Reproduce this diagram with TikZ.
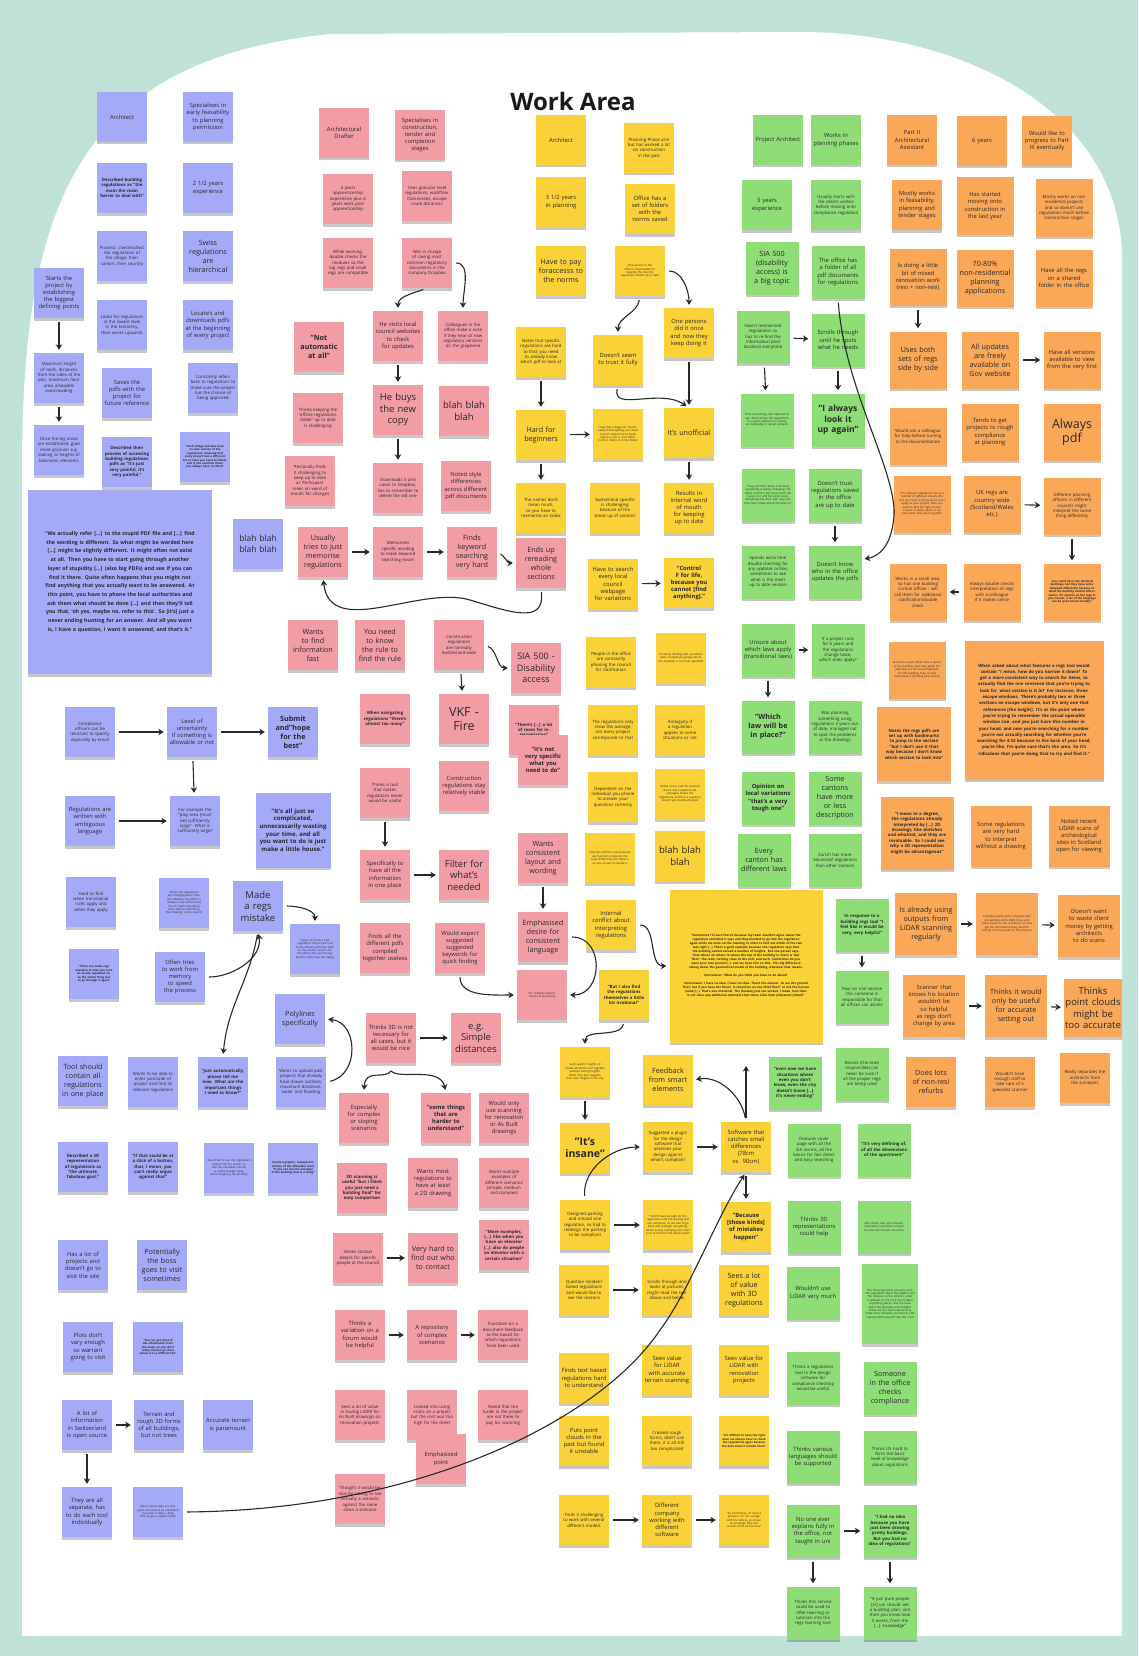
\documentclass[tikz,border=0pt]{standalone}
\usepackage{fontspec}
\setmainfont{Open Sans}
\usetikzlibrary{arrows.meta,shadows}
\hyphenpenalty=10000
\exhyphenpenalty=10000
\definecolor{cBg}{RGB}{191,225,216}
\definecolor{cBl}{RGB}{165,170,248}
\definecolor{cPk}{RGB}{242,156,166}
\definecolor{cYe}{RGB}{250,209,55}
\definecolor{cGr}{RGB}{142,221,118}
\definecolor{cOr}{RGB}{250,168,88}
\definecolor{cInk}{RGB}{40,40,40}
\newcommand\stk[5]{\node[note,#1] (#2) at (#3,#4) {#5};}
\tikzset{
  note/.style={rectangle, minimum width=50pt, minimum height=50pt, text width=45pt, align=center, inner sep=0pt, text=cInk,
    drop shadow={shadow xshift=0pt, shadow yshift=-2.5pt, opacity=0.22, fill=black}},
  sz/.style 2 args={minimum width=#1pt, minimum height=#1pt, text width=#2pt},
  bl/.style={fill=cBl}, pk/.style={fill=cPk}, ye/.style={fill=cYe},
  gr/.style={fill=cGr, minimum width=53pt, minimum height=53pt, text width=48pt},
  or/.style={fill=cOr, minimum width=57pt, minimum height=57pt, text width=51pt},
  fA/.style={font=\fontsize{12.5}{14.5}\selectfont},
  fa/.style={font=\fontsize{9.5}{11.5}\selectfont},
  fb/.style={font=\fontsize{7.2}{9}\selectfont},
  fc/.style={font=\fontsize{5.8}{7.2}\selectfont},
  fd/.style={font=\fontsize{4.3}{5.4}\selectfont},
  fe/.style={font=\fontsize{2.8}{3.4}\selectfont},
  bo/.style={execute at begin node=\bfseries},
  arr/.style={draw=cInk, line width=1.1pt, -{Stealth[length=5.5pt,width=6.5pt]}, shorten >=3pt, shorten <=4pt},
}
\begin{document}
\begin{tikzpicture}[x=1pt,y=-1pt]
\useasboundingbox (0,0) rectangle (1138,1656);
\fill[cBg] (0,0) rectangle (1138,1656);
\fill[white] (22,1636) -- (22,470) .. controls (22,200) and (80,60) .. (330,34) -- (800,32)
  .. controls (960,32) and (1122,110) .. (1122,260) -- (1122,1636) -- cycle;
\node[font=\fontsize{24}{26}\selectfont\bfseries, text=black!90] (title) at (573,102) {Work Area};

% ---------------- BLUE ----------------
\stk{bl,fc}{b1}{122}{117}{Architect}
\stk{bl,fc}{b2}{208}{117}{Specialises in early feasability to planning permission}
\stk{bl,fd,bo}{b3}{122}{188}{Described building regulations as "the main the main horror to deal with"}
\stk{bl,fc}{b4}{208}{188}{2 1/2 years experience}
\stk{bl,fd}{b5}{122}{256}{Process: check/collect the regulations of the village, then canton, then country}
\stk{bl,fb}{b6}{208}{256}{Swiss regulations are hierarchical}
\stk{bl,fc}{b7}{59}{293}{Starts the project by establishing the biggest defining points}
\stk{bl,fd}{b8}{122}{325}{Looks for regulations at the lowest level in the hierarchy, then works upwards}
\stk{bl,fc}{b9}{208}{325}{Locate's and downloads pdfs at the beginning of every project}
\stk{bl,fd}{b10}{59}{378}{Maximum height of roofs, distances from the sides of the plot, maximum floor area, allowable overcrowding}
\stk{bl,fc}{b11}{127}{393}{Saves the pdfs with the project for future reference}
\stk{bl,fd}{b12}{213}{388}{Constantly refers back to regulations to make sure the project has the chance of being approved}
\stk{bl,fd}{b13}{59}{450}{Once the big areas are established, goes more granular e.g. looking at heights of balconies, elements}
\stk{bl,fd,bo}{b14}{127}{462}{Described their process of accessing building regulations pdfs as "It's just very painful, it's very painful."}
\stk{bl,fe,bo}{b15}{205}{457}{"Each village will also have its own version of the regulations, meaning that every project has a different set of rules you need to follow, and if you overlook these you always have to check"}
\stk{bl,bo,sz={184}{160},font=\fontsize{5.2}{8.7}\selectfont}{b16}{120}{582}{"We actually refer [...] to the stupid PDF file and [...] find the wording is different. So what might be worded here [...] might be slightly different. It might often not exist at all. Then you have to start going through another layer of stupidity [...] (also big PDFs) and see if you can find it there. Quite often happens that you might not find anything that you actually want to be answered. At this point, you have to phone the local authorities and ask them what should be done [...] and then they'll tell you that, 'oh yes, maybe no, refer to this'. So [it's] just a never ending hunting for an answer. And all you want is, I have a question, I want it answered, and that's it."}
\stk{bl,font=\fontsize{8.5}{10.5}\selectfont}{b17}{258}{544}{blah blah blah blah}
\stk{bl,fd}{b18}{90}{732}{Compliance officers can be reluctant to specify, especially by email}
\stk{bl,fc}{b19}{192}{732}{Level of uncertainty if something is allowable or not}
\stk{bl,fb,bo}{b20}{293}{732}{Submit and"hope for the best"}
\stk{bl,fc}{b21}{90}{821}{Regulations are written with ambiguous language}
\stk{bl,fd}{b22}{195}{821}{For example the "play area [must be] sufficiently large". What is sufficiently large?}
\stk{bl,bo,sz={75}{68},font=\fontsize{6}{7.6}\selectfont}{b23}{293}{830}{"It's all just so complicated, unnecessarily wasting your time, and all you want to do is just make a little house."}
\stk{bl,fd}{b24}{91}{902}{Hard to find when transitional rules apply and when they apply}
\stk{bl,fe}{b25}{184}{903}{Thinks the regulations are changing faster than the software, the office is always a step behind and has to check everything twice before submitting the drawings to the council}
\stk{bl,fa}{b26}{258}{906}{Made a regs mistake}
\stk{bl,fe}{b27}{315}{949}{Forgot to check a new regulation, the project had to be redrawn and sent back to the council, which cost the office time and money and the client was not happy}
\stk{bl,fe,bo}{b28}{94}{974}{"There are made regs mistakes so that you can't be locally regulated on, so the whole thing has to go through it again"}
\stk{bl,fc}{b29}{180}{977}{Often tries to work from memory to speed the process}
\stk{bl,fb}{b30}{300}{1019}{Polylines specifically}
\stk{bl,fb}{b31}{83}{1081}{Tool should contain all regulations in one place}
\stk{bl,fd}{b32}{153}{1082}{Wants to be able to enter postcode of project and find all relevant regulations}
\stk{bl,fd,bo}{b33}{223}{1082}{"Just automatically, please tell me now. What are the important things I need to know?"}
\stk{bl,fd}{b34}{301}{1082}{Wants to upload past projects that already have drawn outlines, maximum distances, water and flooding}
\stk{bl,fd,bo}{b35}{83}{1167}{Described a 3D representation of regulations as "the ultimate, fabulous goal."}
\stk{bl,fd,bo}{b36}{153}{1167}{"If that could be at a click of a button, that, I mean, you can't really argue against that"}
\stk{bl,fe}{b37}{229}{1168}{Would like to see the regulations drawn into the model, so that the allowable volume is visible straight away while designing the building}
\stk{bl,fe,bo}{b38}{293}{1168}{Needs a graphic, transparent volume of the allowable mass "If you can see the envelope of the building that is a thing"}
\stk{bl,fc}{b39}{83}{1265}{Has a lot of projects and doesn't go to visit the site}
\stk{bl,fb}{b40}{162}{1265}{Potentially the boss goes to visit sometimes}
\stk{bl,fc}{b41}{88}{1347}{Plots don't vary enough so warrant going to visit}
\stk{bl,fe,bo}{b42}{158}{1347}{"You can get most of the information from the maps, so you don't really need to go there unless it is a difficult site"}
\stk{bl,fc}{b43}{87}{1425}{A lot of information in Switzerland is open source}
\stk{bl,fc}{b44}{159}{1425}{Terrain and rough 3D forms of all buildings, but not trees}
\stk{bl,fc}{b45}{228}{1425}{Accurate terrain is paramount}
\stk{bl,fc}{b46}{87}{1512}{They are all separate, has to do each tool individually}
\stk{bl,fe}{b47}{158}{1512}{Open source data are very good but have to be combined by hand, it takes a long time to get a usable model}

% ---------------- PINK ----------------
\stk{pk,fc}{p1}{344}{133}{Architectural Drafter}
\stk{pk,fc}{p2}{420}{135}{Specialises in construction, tender and completion stages}
\stk{pk,fd}{p3}{348}{199}{4 years apprenticeship experience plus 4 years work post apprenticeship}
\stk{pk,fd}{p4}{427}{196}{Uses granular level regulations, wall/floor thicknesses, escape route distances}
\stk{pk,fd}{p5}{348}{263}{While working, double checks the modules so the big regs and small regs are compatible}
\stk{pk,fd}{p6}{427}{263}{Was in charge of saving most common regulatory documents in the company Dropbox}
\stk{pk,fc}{p7}{398}{336}{He visits local council websites to check for updates}
\stk{pk,fd}{p8}{463}{336}{Colleagues in the office make a note if they hear of new regulatory versions on the grapevine}
\stk{pk,fb,bo}{p9}{319}{347}{"Not automatic at all"}
\stk{pk,fa}{p10}{398}{410}{He buys the new copy}
\stk{pk,fa}{p11}{464}{411}{blah blah blah}
\stk{pk,fd}{p12}{318}{418}{Thinks keeping the 'offline regulations folder' up to date is challenging}
\stk{pk,fd}{p13}{310}{481}{Personally finds it challenging to keep up to date as Participant relies on word of mouth for changes}
\stk{pk,fd}{p14}{398}{488}{Downloads it and saves to Dropbox, has to remember to delete the old one}
\stk{pk,fc}{p15}{466}{486}{Noted style differences across different pdf documents}
\stk{pk,fb}{p16}{323}{552}{Usually tries to just memorise regulations}
\stk{pk,fd}{p17}{398}{552}{Memorises specific wording to make keyword searching easier}
\stk{pk,fb}{p18}{472}{552}{Finds keyword searching very hard}
\stk{pk,fb}{p19}{541}{563}{Ends up rereading whole sections}
\stk{pk,fb}{p20}{313}{645}{Wants to find information fast}
\stk{pk,fb}{p21}{380}{645}{You need to know the rule to find the rule}
\stk{pk,fd}{p22}{459}{645}{Construction regulations are normally Switzerland wide}
\stk{pk,font=\fontsize{9}{11.5}\selectfont}{p23}{536}{668}{SIA 500 - Disability access}
\stk{pk,fA}{p24}{464}{719}{VKF - Fire}
\stk{pk,fd,bo}{p25}{385}{719}{When navigating regulations "there's almost too many"}
\node[note,pk,fd,bo,text height=20pt,text depth=28pt] (p26) at (534,730) {"There's [...] a lot of room for in-\\terpretation"};
\stk{pk,fc,bo}{p27}{543}{760}{"It's not very specific what you need to do"}
\stk{pk,fd}{p28}{385}{793}{Thinks a tool that makes regulations easier would be useful}
\stk{pk,fc}{p29}{464}{786}{Construction regulations stay relatively stable}
\stk{pk,fb}{p30}{543}{858}{Wants consistent layout and wording}
\stk{pk,fc}{p31}{385}{875}{Specifically to have all the information in one place}
\stk{pk,fa}{p32}{464}{875}{Filter for what's needed}
\stk{pk,fb}{p33}{543}{937}{Emphasised desire for consistent language}
\stk{pk,fc}{p34}{385}{948}{Finds all the different pdfs compiled together useless}
\stk{pk,fc}{p35}{460}{948}{Would expect suggested suggested keywords for quick finding}
\stk{pk,fe}{p36}{542}{995}{For complex specific homes or [terraces]}
\stk{pk,fc}{p37}{391}{1038}{Thinks 3D is not necessary for all cases, but it would be nice}
\stk{pk,fa}{p38}{476}{1038}{e.g. Simple distances}
\stk{pk,fc}{p39}{364}{1118}{Especially for complex or sloping scenarios}
\stk{pk,fc,bo}{p40}{446}{1118}{"some things that are harder to understand"}
\stk{pk,fc}{p41}{504}{1118}{Would only use scanning for renovation or As Built drawings}
\stk{pk,fd,bo}{p42}{362}{1188}{3D scanning is useful "but I think you just need a building final" for easy comparison}
\stk{pk,fc}{p43}{433}{1183}{Wants most regulations to have at least a 2D drawing}
\stk{pk,fd}{p44}{504}{1183}{Wants multiple examples of different scenarios (simple, medium and complex)}
\stk{pk,fd}{p45}{358}{1258}{Stores contact details for specific people at the council}
\stk{pk,fb}{p46}{433}{1258}{Very hard to find out who to contact}
\stk{pk,fd,bo}{p47}{504}{1245}{"More examples, [...] like when you have an elevator [...] also do people an elevator with a certain situation"}
\stk{pk,fc}{p48}{360}{1335}{Thinks a variation on a forum would be helpful}
\stk{pk,fc}{p49}{432}{1335}{A repository of complex scenarios}
\stk{pk,fd}{p50}{503}{1335}{Functions on a document feedback to the board for which regulations have been used}
\stk{pk,fd}{p51}{360}{1415}{Sees a lot of value in having LiDAR for As Built drawings on renovation projects}
\stk{pk,fd}{p52}{432}{1415}{Looked into using scans on a project but the cost was too high for the client}
\stk{pk,fd}{p53}{503}{1415}{Noted that the funds in the project are not there to pay for scanning}
\stk{pk,fc}{p54}{441}{1459}{Emphasised point}
\stk{pk,fd}{p55}{360}{1499}{Thought it would be nice for taking to see virtually a scenario against the same clean a scenario}

% ---------------- YELLOW ----------------
\stk{ye,fc}{y1}{561}{140}{Architect}
\stk{ye,fd}{y2}{649}{148}{Planning Phase arm but has worked a lot on construction in the past}
\stk{ye,fc}{y3}{561}{202}{3 1/2 years in planning}
\stk{ye,fc}{y4}{650}{209}{Office has a set of folders with the norms saved}
\stk{ye,fb}{y5}{561}{271}{Have to pay foraccesss to the norms}
\stk{ye,fe}{y6}{640}{271}{One person in the office is responsible for keeping the [norms] regulations folder up to date}
\stk{ye,fc}{y7}{689}{333}{One persons did it once and now they keep doing it}
\stk{ye,fc}{y8}{618}{360}{Doesn't seem to trust it fully}
\stk{ye,fd}{y9}{541}{352}{Notes that specific regulations are hard to find, you need to already know which pdf to look at}
\stk{ye,fb}{y10}{541}{435}{Hard for beginners}
\stk{ye,fe}{y11}{618}{434}{Says that a beginner cannot easily find anything, you need a lot of experience to know where a rule is, and which norm it refers to in the folder}
\stk{ye,fb}{y12}{689}{433}{It's unofficial}
\stk{ye,fd}{y13}{541}{508}{The names don't mean much, so you have to memorise an index}
\stk{ye,fd}{y14}{615}{508}{Switzerland specific is challenging because of the break up of cantons}
\stk{ye,fc}{y15}{689}{508}{Results in internal word of mouth for keeping up to date}
\stk{ye,fc}{y16}{613}{584}{Have to search every local council webpage for variations}
\stk{ye,fc,bo}{y17}{689}{583}{"Control F for life, because you cannot [find anything]."}
\stk{ye,fd}{y18}{611}{662}{People in the office are constantly phoning the council for clarification}
\stk{ye,fe}{y19}{681}{658}{Currently dealing with a problem with a basement garage where the situation is not fully regulated}
\stk{ye,fd}{y20}{613}{730}{The regulations only show the average, not every project corresponds to that}
\stk{ye,fd}{y21}{680}{730}{Ambiguity if a regulation applies to some situations or not}
\stk{ye,fd}{y22}{613}{797}{Dependent on the individual you phone to answer your questions correctly}
\stk{ye,fe}{y23}{680}{794}{Noted not to take for granted that a more experienced colleague knows the regulations and that a question doesn't get double-checked}
\stk{ye,fe}{y24}{610}{858}{Internal conflicts arise because each person interprets the rules differently and there is no one to ask to resolve it}
\stk{ye,fa}{y25}{680}{856}{blah blah blah}
\stk{ye,fc}{y26}{611}{925}{Internal conflict about interpreting regulations}
\stk{ye,sz={153}{128},font=\fontsize{3}{4}\selectfont}{y27}{746}{966}{\textbf{"Sometimes I'm sure there's because my team wouldn't agree about the regulation and what it says and they decided to go into the regulation again while we were on the meeting in order to find out which of the two was right [...] That's a good example because one regulation says that the building cannot exceed a number of heights. But one person says, from where on where to where the top of the building is, there is 'last floor', the ratio, nothing close to the roof, and such. Sometimes do you want your own ground [...] and we have this on this. This big difference taking about the geometrical model of the building, whatever that means.}\\[4pt] \textbf{Interviewer: What do you think you have to do about?}\\[4pt] \textbf{Interviewee: I have no idea, I have no idea. That's the answer. So are the ground floor, but if you have the floors. It should be on one third floor? or not the houses [exist] [...] That's one irrational. The [houses] just can exceed, I mean, how then is not have any additional rationale than these rules than [whatever] [that]?"}}
\stk{ye,fd,bo}{y28}{624}{995}{"But I also find the regulations themselves a little bit irrational"}
\stk{ye,fe}{y29}{585}{1072}{Such specific heights of facade elements, but regulate without having heights when they also regulate their own heights in the city}
\stk{ye,bo,font=\fontsize{10.5}{12.5}\selectfont}{y30}{585}{1148}{"It's insane"}
\stk{ye,fb}{y31}{668}{1080}{Feedback from smart elements}
\stk{ye,fd}{y32}{668}{1147}{Suggested a plugin for the design software that assesses your design against what's compliant}
\stk{ye,fc}{y33}{746}{1147}{Software that catches small differences (78cm vs. 90cm)}
\stk{ye,fc,bo}{y34}{746}{1227}{"Because [those kinds] of mistakes happen"}
\stk{ye,fd}{y35}{585}{1225}{Designed parking and missed one regulation, so had to redesign the parking to be compliant}
\stk{ye,fe}{y36}{668}{1225}{"I didn't have enough for the regulations and the parking was not compliant, so we had to go back and redesign everything, which is very annoying and costs a lot of time for the whole team"}
\stk{ye,fd}{y37}{584}{1290}{Question resident based regulations and would like to see the reasons}
\stk{ye,fd}{y38}{667}{1290}{Scrolls through and looks at pictures, might read the text above and below}
\stk{ye,fb}{y39}{744}{1290}{Sees a lot of value with 3D regulations}
\stk{ye,fc}{y40}{584}{1378}{Finds text based regulations hard to understand}
\stk{ye,fc}{y41}{667}{1370}{Sees value for LiDAR with accurate terrain scanning}
\stk{ye,fc}{y42}{744}{1370}{Sees value for LiDAR with renovation projects}
\stk{ye,fc}{y43}{584}{1441}{Puts point clouds in the past but found it unstable}
\stk{ye,fd}{y44}{667}{1441}{Created rough forms, didn't use them, it is all still too complicated}
\stk{ye,fe,bo}{y45}{744}{1441}{"It's difficult to have the right data, we always have to check the regulations again because the data doesn't include them"}
\stk{ye,fd}{y46}{584}{1520}{Finds it challenging to work with several different models}
\stk{ye,fc}{y47}{667}{1520}{Different company working with different software}
\stk{ye,fe}{y48}{744}{1520}{"So sometimes, if I have a problem, it's not enough with the others, you have to exchange files and convert them all the time"}

% ---------------- GREEN ----------------
\stk{gr,fc,sz={50}{45}}{g1}{778}{140}{Project Architect}
\stk{gr,fc,sz={50}{45}}{g2}{836}{140}{Works in planning phases}
\stk{gr,fc,sz={50}{45}}{g3}{767}{205}{3 years experience}
\stk{gr,fd,sz={50}{45}}{g4}{836}{205}{Usually starts with the clients wishes before moving onto compliance regulation}
\stk{gr,fb}{g5}{772}{268}{SIA 500 (disability access) is a big topic}
\stk{gr,fc}{g6}{838}{272}{The office has a folder of all pdf documents for regulations}
\stk{gr,fd}{g7}{763}{337}{Hasn't memorised regulations so has to re-find the information (and location) everytime}
\stk{gr,fc}{g8}{838}{340}{Scrolls through until he spots what he needs}
\stk{gr,fe}{g9}{767}{420}{Time-consuming and repetitive to ask, doesn't have the regulations in a good platform for saving as knowledge to design projects}
\stk{gr,bo,font=\fontsize{8.5}{10.5}\selectfont}{g10}{838}{420}{"I always look it up again"}
\stk{gr,fe}{g11}{768}{495}{"They still don't know it because everything is always changing; SIA office of all the SIA norms with the basics in it and the latest ones. Everybody has their own way and they don't know where the latest is"}
\stk{gr,fc}{g12}{835}{495}{Doesn't trust regulations saved in the office are up to date}
\stk{gr,fd}{g13}{768}{572}{Spends extra time double checking for any updates online, sometimes to see what is the most up to date version}
\stk{gr,fc}{g14}{835}{572}{Doesn't know who in the office updates the pdfs}
\stk{gr,fc}{g15}{768}{650}{Unsure about which laws apply (transitional laws)}
\stk{gr,fd}{g16}{838}{650}{If a project runs for 6 years and the regulations change twice, which ones apply?}
\stk{gr,fb,bo}{g17}{768}{727}{"Which law will be in place?"}
\stk{gr,fd}{g18}{835}{727}{Was planning something using regulations 3 years out of date, managed not to spot the problems at the drawings}
\stk{gr,fc,bo}{g19}{768}{798}{Opinion on local variations "that's a very tough one"}
\stk{gr,fb}{g20}{835}{798}{Some cantons have more or less description}
\stk{gr,fb}{g21}{764}{860}{Every canton has different laws}
\stk{gr,fd}{g22}{835}{860}{Zurich has more 'advanced' regulations than other cantons}
\stk{gr,fd,bo}{g23}{862}{925}{In response to a building regs tool "I feel like it would be very, very helpful"}
\stk{gr,fd}{g24}{862}{997}{Paul on trial service this someone is responsible for that all offices can access}
\stk{gr,fd,bo}{g25}{795}{1083}{"even now we have situations where even you don't know, even the city doesn't know [...] it's never-ending"}
\stk{gr,fd}{g26}{862}{1074}{Bosses (the ones responsible) can never be sure if all the proper regs are being used}
\stk{gr,fd}{g27}{814}{1150}{Features cover page with all the SIA norms, all the basics for fast direct and easy searching}
\stk{gr,fd,bo}{g28}{884}{1150}{"It's very defining of, of all the dimensions of the apartment"}
\stk{gr,fc}{g29}{814}{1227}{Thinks 3D representations could help}
\stk{gr,fe}{g30}{884}{1227}{Also thinks that just coherent illustrations would be enough to cover all complex scenarios}
\stk{gr,fc}{g31}{813}{1293}{Wouldn't use LiDAR very much}
\stk{gr,fe,sz={56}{50},minimum height=80pt}{g32}{890}{1304}{The following topics are very hard: The regulation about the heights and the distance to the borders, what is allowed on the roof, the number of parking places, and the rules about the windows and daylight. These are the topics where they make most mistakes and where a 3D representation would help the most}
\stk{gr,fd}{g33}{813}{1378}{Thinks a regulations tool in the design software for compliance checking would be useful}
\stk{gr,fb}{g34}{890}{1388}{Someone in the office checks compliance}
\stk{gr,fc}{g35}{813}{1457}{Thinks various languages should be supported}
\stk{gr,fd}{g36}{890}{1457}{Thinks it's hard to form the basic level of knowledge about regulations}
\stk{gr,fc}{g37}{813}{1531}{No one ever explains fully in the office, not taught in uni}
\stk{gr,fd,bo}{g38}{890}{1531}{"I had no idea because you have just been drawing pretty buildings. But you had no idea of regulations"}
\stk{gr,fd}{g39}{813}{1613}{Thinks this service could be used to offer learning or tutorials into the regs learning tool}
\stk{gr,fd}{g40}{890}{1613}{"A just pure people [in] uni should see a building plan, and then you know how it works, from the [...] knowledge"}

% ---------------- ORANGE ----------------
\stk{or,fc,sz={50}{45}}{o1}{912}{140}{Part II Architectural Assistant}
\stk{or,fc,sz={50}{45}}{o2}{982}{141}{6 years}
\stk{or,fc,sz={50}{45}}{o3}{1047}{141}{Would like to progress to Part III eventually}
\stk{or,fc,sz={50}{45}}{o4}{917}{205}{Mostly works in feasability, planning and tender stages}
\stk{or,fc}{o5}{985}{206}{Has started moving onto construction in the last year}
\stk{or,fd}{o6}{1064}{208}{Mostly works on non residential projects and so doesn't use regulations much before construction stages}
\stk{or,fc}{o7}{918}{277}{Is doing a little bit of mixed renovation work (resi + non-resi)}
\stk{or,fb}{o8}{985}{278}{70-80\% non-residential planning applications}
\stk{or,fc}{o9}{1064}{278}{Have all the regs on a shared folder in the office}
\stk{or,fb}{o10}{918}{360}{Uses both sets of regs side by side}
\stk{or,fb}{o11}{990}{360}{All updates are freely available on Gov website}
\stk{or,fc}{o12}{1072}{360}{Have all versions available to view from the very first}
\stk{or,fd}{o13}{918}{436}{Would ask a colleague for help before turning to the documentation}
\stk{or,fc}{o14}{990}{432}{Tends to get projects to rough compliance at planning}
\stk{or,fA}{o15}{1072}{432}{Always pdf}
\stk{or,fe}{o16}{922}{504}{"The relevant regulations are in a number of different documents and you need to know which ones apply to your project, then you need to find the right section in each of them, which is not easy when they are long pdfs"}
\stk{or,fc}{o17}{992}{504}{UK regs are country wide (Scotland/Wales etc.)}
\stk{or,fd}{o18}{1072}{506}{Different planning officers in different councils might interpret the same thing differently}
\stk{or,fe,bo}{o19}{1072}{592}{"you could have two identical buildings, but they have some designed differently because of what the building control officer wants. It's opinion on the regs in your favour, a lot of the language can be quite broad actually"}
\stk{or,fd}{o20}{992}{592}{Always double checks interpretation of regs with a colleague if it makes sense}
\stk{or,fd}{o21}{918}{592}{Works in a small area, so has one building control officer - will call them for additional clarification/double check}
\stk{or,fe}{o22}{917}{670}{Also has a local officer who is aware of the building rules they apply for; planning is a bit more important for the building, they usually come back if anything goes wrong}
\stk{or,bo,sz={139}{118},font=\fontsize{4.3}{6.3}\selectfont}{o23}{1034}{710}{When asked about what features a regs tool would contain "I mean, how do you narrow it down? To get a more consistent way to search for items, to actually find the one sentence that you're trying to look for, what section is it in? For instance, three escape windows. There's probably two or three sections on escape windows, but it's only one that references [the height]. It's at the point where you're trying to remember the actual openable window size, and you just have this number in your head, and now you're searching for a number you're not actually searching for whether you're searching for 4.33 because in the back of your head, you're like, I'm quite sure that's the area. So it's ridiculous that you're doing that to try and find it."}
\stk{or,fd,bo,sz={74}{64}}{o24}{914}{744}{Notes the regs pdfs are set up with bookmarks to jump to the section "but I don't use it that way because I don't know which section to look into"}
\stk{or,fd,bo,sz={73}{64}}{o25}{917}{833}{"I mean to a degree, the regulations already interpreted by [...] 2D drawings, like sketches and whatnot, and they are invaluable. So I could see why a 3D representation might be advantageous"}
\stk{or,fc,sz={61}{52}}{o26}{1001}{836}{Some regulations are very hard to interpret without a drawing}
\stk{or,fc,sz={61}{52}}{o27}{1079}{836}{Noted recent LiDAR scans of archeological sites in Scotland open for viewing}
\stk{or,fb,sz={62}{56}}{o28}{926}{924}{Is already using outputs from LiDAR scanning regularly}
\stk{or,fe,sz={62}{54}}{o29}{1007}{924}{Company works with surveyors who are working with LiDAR, they send point clouds to the architects, so they get the information they need for setting out the project in the practice}
\stk{or,fc,sz={62}{55}}{o30}{1089}{926}{Doesn't want to waste client money by getting architects to do scans}
\stk{or,fc,sz={62}{55}}{o31}{934}{1006}{Scanner that knows his location wouldn't be so helpful as regs don't change by area}
\stk{or,fb,sz={62}{57}}{o32}{1016}{1006}{Thinks it would only be useful for accurate setting out}
\stk{or,fa,sz={58}{57}}{o33}{1093}{1008}{Thinks point clouds might be too accurate}
\stk{or,fb,sz={50}{47}}{o34}{931}{1082}{Does lots of non-resi refurbs}
\stk{or,fd,sz={50}{45}}{o35}{1010}{1082}{Wouldn't have enough staff to take care of a specialist scanner}
\stk{or,fd,sz={50}{45}}{o36}{1085}{1078}{Really separates the architects from the surveyors}

% ---------------- CONNECTORS ----------------
% blue
\draw[arr] (b7) -- (b10);
\draw[arr] (b10) -- (b13);
\draw[arr] (b18) -- (b19);
\draw[arr] (b19) -- (b20);
\draw[arr] (b19) -- (b22);
\draw[arr] (b21) -- (b22);
\draw[arr] (b26.east) to[out=0,in=90] (b27.north);
\draw[arr] (b29.east) to[out=0,in=-80] (b26.south);
\draw[arr] (b26.south) to[out=-100,in=85] (b33.north);
\draw[arr] (b34.east) .. controls (360,1075) and (358,1022) .. (b30.east);
\draw[arr] (b43) -- (b44);
\draw[arr] (b43) -- (b46);
\draw[arr] (b47.east) .. controls (420,1510) and (600,1420) .. (660,1330) .. controls (690,1290) and (715,1220) .. (y33.south);
% pink
\draw[arr] (p6.south) to[out=200,in=90] (p7.north);
\draw[arr] (p6.east) to[out=0,in=90] (p8.north);
\draw[arr] (p7) -- (p10);
\draw[arr] (p10) -- (p14);
\draw[arr] (p16) -- (p17);
\draw[arr] (p17) -- (p18);
\draw[arr] (p18.east) to[out=-30,in=180] (p19.west);
\draw[arr] (p19.south) .. controls (545,625) and (510,612) .. (470,600) .. controls (420,585) and (330,640) .. (p16.south);
\draw[arr] (p22.east) to[out=-20,in=180] (p23.west);
\draw[arr] (p22) -- (p24);
\draw[arr] (p28) -- (p31);
\draw[arr] (p31) -- (p32);
\draw[arr] (p30) -- (p33);
\draw[arr] (p35.south) to[out=-90,in=180] (p36.west);
\draw[arr] (p33.east) to[out=0,in=0,looseness=1.6] (p36.east);
\draw[arr] (p37) -- (p38);
\coordinate (brace) at (391,1071);
\draw[arr,shorten <=0pt] (brace) .. controls (385,1080) and (365,1068) .. (p39.north);
\draw[arr,shorten <=0pt] (brace) .. controls (400,1080) and (440,1066) .. (p40.north);
\draw[arr] (p45) -- (p46);
\draw[arr] (p48) -- (p49);
\draw[arr] (p49) -- (p50);
% yellow
\draw[arr] (y6.east) to[out=0,in=90] (y7.north);
\draw[arr] (y6.south) to[out=-100,in=90] (y8.north);
\draw[arr] (y9) -- (y10);
\draw[arr] (y10) -- (y11);
\draw[arr] (y7) -- (y12);
\draw[arr] (y8.south) .. controls (612,412) and (660,388) .. (y12.north);
\draw[arr] (y10) -- (y13);
\draw[arr] (y12) -- (y15);
\draw[arr] (y16) -- (y17);
\draw[arr] (y26.east) to[out=0,in=180] (y27.west);
\draw[arr] (y28.south) to[out=-100,in=90] (y29.north);
\draw[arr] (y29) -- (y30);
\coordinate (yup) at (746,1066);
\draw[arr,shorten >=0pt] (y33.north) -- (yup);
\draw[arr] (y33.north) to[out=100,in=10] (y31.east);
\draw[arr] (y32) -- (y33);
\draw[arr] (y33) -- (y34);
\draw[arr] (y35) -- (y36);
\draw[arr] (y35.north) to[out=95,in=180] (y32.west);
\draw[arr] (y37) -- (y38);
\draw[arr] (y46) -- (y47);
\draw[arr] (y47) -- (y48);
% green
\draw[arr] (g7) -- (g8);
\draw[arr] (g7) -- (g9);
\draw[arr] (g8) -- (g10);
\draw[arr] (g6.south) .. controls (845,390) and (896,470) .. (894,515) .. controls (892,545) and (880,556) .. (g14.25);
\draw[arr] (g12) -- (g14);
\draw[arr] (g15) -- (g16);
\draw[arr] (g15) -- (g17);
\draw[arr] (g23) -- (g24);
\draw[arr] (g37) -- (g38);
\draw[arr] (g37) -- (g39);
\draw[arr] (g38) -- (g40);
% orange
\draw[arr] (o7) -- (o10);
\draw[arr] (o11) -- (o12);
\draw[arr] (o17) -- (o18);
\draw[arr] (o18) -- (o19);
\draw[arr] (o20) -- (o21);
\draw[arr] (o28) -- (o29);
\draw[arr] (o29) -- (o30);
\draw[arr] (o31) -- (o32);
\draw[arr] (o32) -- (o33);
\end{tikzpicture}
\end{document}
